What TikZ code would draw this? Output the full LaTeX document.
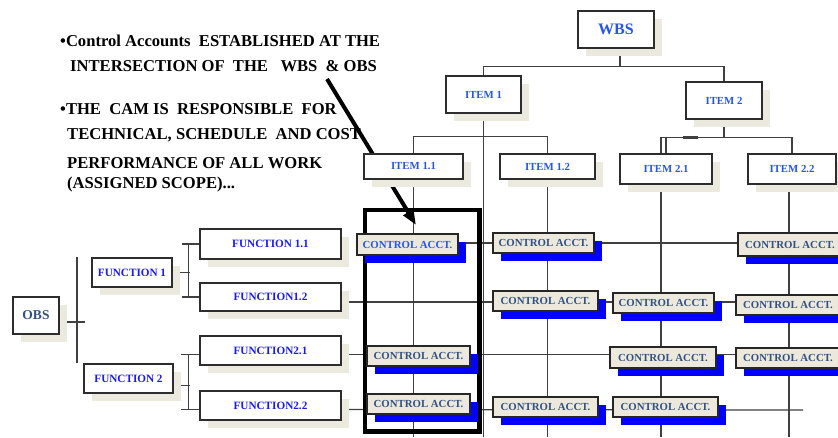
\documentclass[tikz,border=0pt]{standalone}
\usepackage{fontspec}
\setmainfont{Liberation Serif}
\usetikzlibrary{shadows,arrows.meta}
\definecolor{shadebeige}{RGB}{236,233,222}
\definecolor{cabeige}{RGB}{236,233,220}
\definecolor{cablue}{RGB}{0,0,255}
\definecolor{boxline}{RGB}{45,45,45}
\definecolor{wiregray}{RGB}{64,64,64}
\definecolor{itemblue}{RGB}{40,85,230}
\definecolor{fnblue}{RGB}{25,25,240}
\definecolor{catext}{RGB}{50,80,130}
\pgfdeclarelayer{paper}
\pgfdeclarelayer{wires}
\pgfsetlayers{paper,wires,main}
\tikzset{
    plainbox/.style = {draw = boxline, line width = 1.3pt, fill = white, inner sep = 0pt,
        general shadow = {fill = shadebeige, shadow xshift = 8pt, shadow yshift = -8pt},
        font = \bfseries\fontsize{10.8}{12}\selectfont, text = itemblue},
    fnbox/.style = {plainbox, minimum width = 141pt, minimum height = 29pt,
        font = \bfseries\fontsize{11.2}{13}\selectfont, text = fnblue},
    acctbox/.style = {draw = black!85, line width = 1.5pt, fill = cabeige, inner sep = 0pt,
        minimum width = 103pt, minimum height = 20pt,
        general shadow = {fill = cablue, shadow xshift = 8pt, shadow yshift = -8pt},
        font = \bfseries\fontsize{10.8}{12}\selectfont, text = catext},
    wire/.style = {draw = wiregray, line width = 1.2pt},
    note/.style = {anchor = base west, inner sep = 0pt, font = \bfseries\fontsize{16.6}{19}\selectfont},
}
\begin{document}
\begin{tikzpicture}[x = 1pt, y = -1pt]
    \useasboundingbox (0, 0) rectangle (838, 437);
    \begin{pgfonlayer}{paper}
        \fill[white] (0, 0) rectangle (838, 437);
    \end{pgfonlayer}

    % the two bullets
    \node[note] (note1) at (60, 46.5) {\textbullet Control Accounts\ \ ESTABLISHED AT THE};
    \node[note] (note2) at (70, 71) {INTERSECTION OF\ \ THE\ \ \ WBS\ \ \& OBS};
    \node[note] (note3) at (60, 114) {\textbullet THE\ \ CAM IS\ \ RESPONSIBLE\ \ FOR};
    \node[note] (note4) at (67, 139) {TECHNICAL, SCHEDULE\ \ AND COST};
    \node[note] (note5) at (67, 168) {PERFORMANCE OF ALL WORK};
    \node[note] (note6) at (67, 188) {(ASSIGNED SCOPE)...};

    % WBS
    \node[plainbox, minimum width = 76pt, minimum height = 37pt,
        font = \bfseries\fontsize{16}{19}\selectfont] (wbs) at (616, 29.5) {WBS};
    \node[plainbox, minimum width = 75pt, minimum height = 37pt] (item1) at (483.5, 94.5) {ITEM 1};
    \node[plainbox, minimum width = 76pt, minimum height = 37pt] (item2) at (724, 100.5) {ITEM 2};
    \node[plainbox, minimum width = 99pt, minimum height = 25pt] (item11) at (413.5, 166.5) {ITEM 1.1};
    \node[plainbox, minimum width = 95pt, minimum height = 25pt] (item12) at (547.5, 166.5) {ITEM 1.2};
    \node[plainbox, minimum width = 92pt, minimum height = 30pt] (item21) at (666, 169) {ITEM 2.1};
    \node[plainbox, minimum width = 88pt, minimum height = 30pt] (item22) at (792, 169) {ITEM 2.2};

    % OBS
    \node[plainbox, minimum width = 46pt, minimum height = 37pt, text = catext,
        font = \bfseries\fontsize{13.5}{16}\selectfont] (obs) at (36, 315.5) {OBS};
    \node[fnbox, minimum width = 80pt] (fn1) at (132, 272.5) {FUNCTION 1};
    \node[fnbox, minimum width = 89pt] (fn2) at (128.5, 378.5) {FUNCTION 2};
    \node[fnbox, minimum height = 30pt] (fn11) at (270.5, 244) {FUNCTION 1.1};
    \node[fnbox, minimum height = 28pt] (fn12) at (270.5, 297) {FUNCTION1.2};
    \node[fnbox] (fn21) at (270.5, 350.5) {FUNCTION2.1};
    \node[fnbox] (fn22) at (270.5, 405.5) {FUNCTION2.2};

    % control accounts, row - column
    \node[acctbox, minimum width = 101pt, minimum height = 21pt, text = itemblue] (ca-1-1) at (407.5, 244.5) {CONTROL ACCT.};
    \node[acctbox] (ca-3-1) at (418.5, 356) {CONTROL ACCT.};
    \node[acctbox] (ca-4-1) at (418.5, 404) {CONTROL ACCT.};
    \node[acctbox, minimum width = 101pt] (ca-1-2) at (543.5, 243) {CONTROL ACCT.};
    \node[acctbox, minimum width = 105pt] (ca-2-2) at (545.5, 301) {CONTROL ACCT.};
    \node[acctbox, minimum width = 105pt] (ca-4-2) at (545.5, 407) {CONTROL ACCT.};
    \node[acctbox, minimum width = 101pt] (ca-2-3) at (663.5, 303) {CONTROL ACCT.};
    \node[acctbox, minimum width = 106pt, minimum height = 21pt] (ca-3-3) at (663, 357.5) {CONTROL ACCT.};
    \node[acctbox, minimum width = 105pt] (ca-4-3) at (665.5, 407) {CONTROL ACCT.};
    \node[acctbox, minimum width = 104pt, minimum height = 23pt] (ca-1-4) at (790, 244.5) {CONTROL ACCT.};
    \node[acctbox, minimum width = 104pt] (ca-2-4) at (788, 305) {CONTROL ACCT.};
    \node[acctbox, minimum width = 104pt] (ca-3-4) at (788, 358) {CONTROL ACCT.};

    \begin{pgfonlayer}{wires}
        \coordinate (floor) at (0, 437);
        % WBS tree
        \draw[wire] ([xshift = 4pt]wbs.south) -- ++(0, 18) coordinate (wbsjoin);
        \draw[wire] (item1.north) |- (wbsjoin) -| (item2.north);
        \draw[wire] (item1.south) -- (item1.south |- floor);
        \draw[wire] (item11.north) -- ++(0, -17) -| (item12.north);
        \draw[wire] (item11.south) -- (item11.south |- floor);
        \draw[wire] (item12.south) -- (item12.south |- floor);
        \draw[wire] (item2.south) -- ++(0, 18) coordinate (item2join);
        \draw[wire] ([xshift = -5pt]item21.north) |- (item2join) -| (item22.north);
        \draw[wire] (item21.north) -- (item21.north |- item2join);
        \draw[wire, line width = 2.5pt] ([xshift = 17pt]item21.north |- item2join) -- ++(15, 0);
        \path ([xshift = -5pt]item21.south) coordinate (col3);
        \path ([xshift = -3pt]item22.south) coordinate (col4);
        \draw[wire] (col3) -- (col3 |- floor);
        \draw[wire] (col4) -- (col4 |- floor);

        % OBS tree
        \coordinate (obsjoin) at (77, 322);
        \draw[wire] (obs.east |- obsjoin) -- ++(25, 0);
        \draw[wire] (obsjoin |- fn1.north) -- (obsjoin |- fn2.north);
        \draw[wire] (fn11.west) -- ++(-17, 0);
        \draw[wire] (fn12.west) -- ++(-17, 0);
        \draw[wire] ([xshift = -11pt]fn11.west) -- ([xshift = -11pt]fn12.west);
        \draw[wire] (fn1.east) -- ++(17, 0);
        \draw[wire] ([yshift = -4pt]fn21.west) -- ++(-18, 0);
        \draw[wire] ([yshift = -4pt]fn22.west) -- ++(-18, 0);
        \draw[wire] ([xshift = -11pt, yshift = -4pt]fn21.west) -- ([xshift = -11pt, yshift = -4pt]fn22.west);
        \draw[wire] ([yshift = -7pt]fn2.east) -- ++(16, 0);

        % rows
        \draw[wire, line width = 1.8pt] (ca-1-2) -- (ca-1-2 -| ca-1-1) (ca-1-2) -- (ca-1-2 -| ca-1-4);
        \path ([yshift = -5pt]fn12.east) coordinate (row2);
        \path ([yshift = -4pt]fn21.east) coordinate (row3);
        \path ([yshift = -4pt]fn22.east) coordinate (row4);
        \coordinate (rowend) at (803, 410);
        \draw[wire] (row2) -- (row2 -| ca-2-4);
        \draw[wire] (row3) -- (row3 -| ca-3-4);
        \draw[wire] (row4) -- (rowend);

        % CAM frame and pointer
        \draw[line width = 4.5pt] (365, 210) rectangle (479.5, 431.5);
        \coordinate (ptrstart) at (327, 79);
        \coordinate (ptrtip) at (416, 225);
        \draw[line width = 4pt, -{Triangle[length = 15pt, width = 11pt]}] (ptrstart) -- (ptrtip);
    \end{pgfonlayer}
\end{tikzpicture}
\end{document}
